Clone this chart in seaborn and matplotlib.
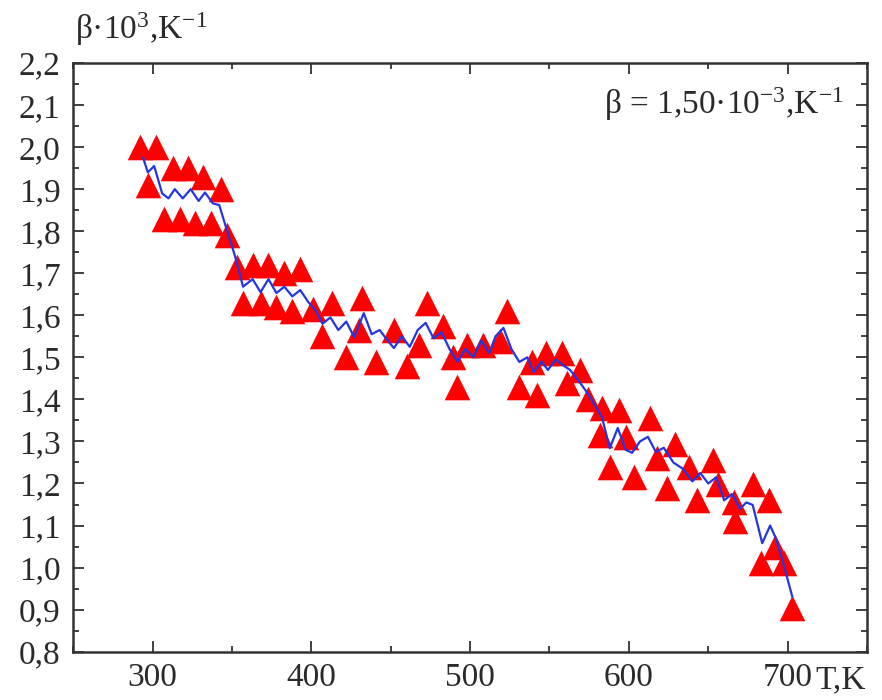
import matplotlib
matplotlib.use("Agg")
import matplotlib.pyplot as plt
import seaborn as sns
import pandas as pd
from matplotlib.ticker import MultipleLocator, FuncFormatter

# triangles (measured points)
tri_T = [292, 302, 297, 313, 322, 332, 343, 307, 317, 327, 337, 347,
         353, 363, 373, 383, 393, 357, 368, 378, 388, 401, 413, 432,
         407, 422, 430, 452, 441, 460, 468, 473, 483, 489, 492, 498,
         508, 519, 523, 531, 542, 539, 548, 558, 561, 569, 574, 583,
         594, 613, 582, 598, 629, 588, 603, 618, 624, 638, 653, 643,
         656, 666, 667, 678, 688, 692, 683, 698, 703]
tri_beta = [2.00, 2.00, 1.91, 1.95, 1.95, 1.93, 1.90, 1.83, 1.83, 1.82, 1.82, 1.79,
            1.715, 1.72, 1.72, 1.70, 1.71, 1.63, 1.63, 1.62, 1.61, 1.615, 1.63, 1.64,
            1.55, 1.50, 1.565, 1.565, 1.49, 1.48, 1.53, 1.63, 1.575, 1.50, 1.43, 1.53,
            1.53, 1.54, 1.61, 1.43, 1.41, 1.49, 1.51, 1.51, 1.44, 1.47, 1.40, 1.38,
            1.375, 1.355, 1.315, 1.31, 1.295, 1.24, 1.215, 1.26, 1.19, 1.24, 1.255, 1.16,
            1.20, 1.155, 1.11, 1.20, 1.16, 1.05, 1.01, 1.01, 0.905]

# blue wavy curve, read at its peaks / troughs
line_T = [294, 297, 301, 306, 310, 314, 319, 324, 329, 333, 338, 342, 347, 352,
          357, 363, 368, 373, 378, 383, 388, 393, 398, 403, 407, 412, 417, 422,
          427, 433, 438, 443, 447, 452, 457, 462, 467, 472, 477, 482, 487, 492,
          497, 502, 507, 512, 516, 521, 526, 531, 536, 540, 545, 549, 554, 559,
          563, 568, 573, 578, 583, 588, 593, 598, 602, 607, 612, 617, 622, 628,
          634, 640, 645, 650, 655, 660, 665, 670, 674, 678, 684, 689, 693, 698, 703]
line_beta = [1.975, 1.94, 1.955, 1.89, 1.878, 1.90, 1.878, 1.90, 1.872, 1.892, 1.866, 1.862, 1.80, 1.74,
             1.668, 1.686, 1.655, 1.686, 1.653, 1.668, 1.645, 1.66, 1.632, 1.61, 1.58, 1.595, 1.565, 1.585,
             1.548, 1.605, 1.555, 1.565, 1.545, 1.522, 1.55, 1.525, 1.565, 1.582, 1.545, 1.56, 1.52, 1.49,
             1.52, 1.50, 1.54, 1.51, 1.55, 1.57, 1.52, 1.489, 1.50, 1.465, 1.49, 1.47, 1.495, 1.48,
             1.47, 1.446, 1.42, 1.39, 1.358, 1.284, 1.332, 1.28, 1.273, 1.30, 1.311, 1.275, 1.285, 1.25,
             1.235, 1.205, 1.225, 1.20, 1.215, 1.16, 1.175, 1.14, 1.155, 1.149, 1.058, 1.10, 1.066, 1.00, 0.93]

sns.set_style("ticks")
plt.rcParams["font.family"] = ["Liberation Serif", "DejaVu Serif"]
plt.rcParams["mathtext.fontset"] = "custom"
plt.rcParams["mathtext.rm"] = "Liberation Serif"
plt.rcParams["mathtext.it"] = "Liberation Serif:italic"

fig = plt.figure(figsize=(8.82, 7.0), dpi=100)
ax = fig.add_axes([0.083, 0.069, 0.900, 0.841])

pts = pd.DataFrame({"T": tri_T, "beta": tri_beta})
curve = pd.DataFrame({"T": line_T, "beta": line_beta})

sns.scatterplot(data=pts, x="T", y="beta", marker="^", s=340, color="#ff0000",
                edgecolor="#ff0000", linewidth=0, ax=ax, zorder=2)
sns.lineplot(data=curve, x="T", y="beta", sort=False, color="#2436e0", lw=1.6,
             ax=ax, zorder=3)

ax.set_xlim(250, 750)
ax.set_ylim(0.8, 2.2)
ax.xaxis.set_major_locator(MultipleLocator(100))
ax.xaxis.set_minor_locator(MultipleLocator(50))
ax.yaxis.set_major_locator(MultipleLocator(0.1))
ax.yaxis.set_minor_locator(MultipleLocator(0.05))
ax.yaxis.set_major_formatter(FuncFormatter(lambda v, p: f"{v:.1f}".replace(".", ",")))
ax.xaxis.set_major_formatter(FuncFormatter(lambda v, p: f"{v:.0f}" if v <= 700 else ""))

ax.tick_params(which="both", direction="in", top=True, right=True, colors="#333333",
               labelcolor="#2a2a2a", labelsize=24, width=1.3)
ax.tick_params(which="major", length=8)
ax.tick_params(which="minor", length=4)
ax.tick_params(axis="x", pad=8)
ax.tick_params(axis="y", pad=9)
for s in ax.spines.values():
    s.set_linewidth(1.8)
    s.set_color("#333333")

ax.set_xlabel("")
ax.set_ylabel("")
fig.text(0.085, 0.932, r"β·10$^{3}$,K$^{-1}$", fontsize=24, color="#2a2a2a",
         ha="left", va="bottom")
fig.text(0.924, 0.029, "T,K", fontsize=24, color="#2a2a2a", ha="left", va="center")
ax.text(0.97, 0.93, r"β = 1,50·10$^{-3}$,K$^{-1}$", transform=ax.transAxes,
        fontsize=24, color="#2a2a2a", ha="right", va="center")

fig.savefig("out.png", dpi=100)
